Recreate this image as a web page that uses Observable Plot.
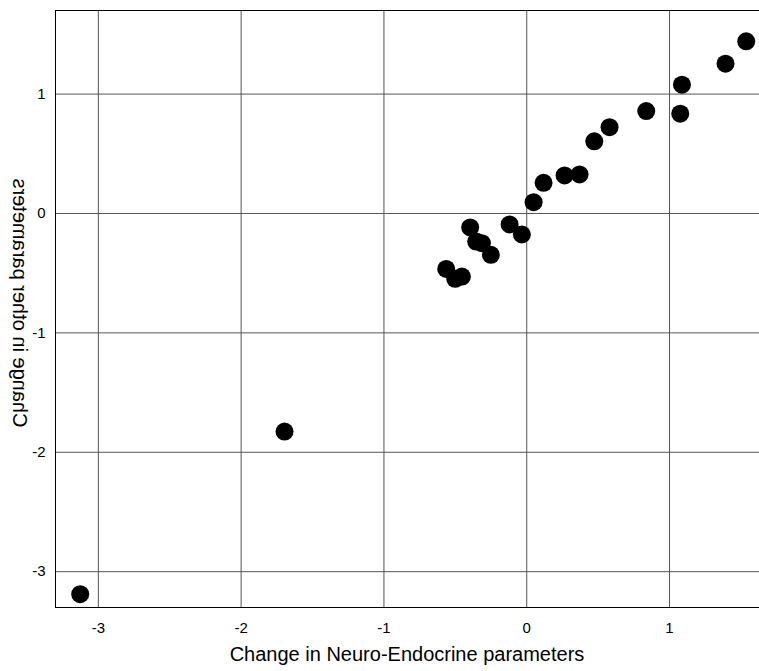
<!DOCTYPE html>
<html>
<head>
<meta charset="utf-8">
<script src="https://cdn.jsdelivr.net/npm/d3@7"></script>
<script src="https://cdn.jsdelivr.net/npm/@observablehq/plot@0.6"></script>
<style>
  body { margin: 0; background: #fff; }
  svg text.ticklab { font-size: 15px !important; }
</style>
</head>
<body>
<div id="chart"></div>
<script>
const xValues = [-3.127, -1.696, -0.564, -0.501, -0.454, -0.396, -0.354, -0.314, -0.251, -0.120, -0.034, 0.048, 0.118, 0.265, 0.370, 0.473, 0.580, 0.837, 1.075, 1.087, 1.392, 1.537];
const yValues = [-3.188, -1.827, -0.464, -0.547, -0.528, -0.117, -0.235, -0.249, -0.346, -0.092, -0.176, 0.095, 0.257, 0.319, 0.327, 0.604, 0.723, 0.858, 0.836, 1.079, 1.255, 1.442];
const xTicks = [-3, -2, -1, 0, 1];
const yTicks = [-3, -2, -1, 0, 1];
const xLabel = "Change in Neuro-Endocrine parameters";
const yLabel = "Change in other parameters";

const data = xValues.map((x, i) => ({x, y: yValues[i]}));
const fmt = d => String(d);
const W = 759, H = 671, mL = 55, mR = 0, mT = 10, mB = 64;

const chart = Plot.plot({
  width: W,
  height: H,
  marginLeft: mL,
  marginRight: mR,
  marginTop: mT,
  marginBottom: mB,
  style: {fontFamily: "'Liberation Sans', Arial, sans-serif", fontSize: "15px", color: "#000", background: "#fff", overflow: "visible"},
  x: {domain: [-3.3, 1.63]},
  y: {domain: [-3.3, 1.7]},
  marks: [
    Plot.gridX(xTicks, {stroke: "#555", strokeOpacity: 1}),
    Plot.gridY(yTicks, {stroke: "#555", strokeOpacity: 1}),
    Plot.frame({stroke: "#000"}),
    Plot.axisX(xTicks, {tickSize: 0, tickPadding: 15, tickFormat: fmt, label: null, fill: "#000", fontSize: 15}),
    Plot.axisY(yTicks, {tickSize: 0, tickPadding: 10, tickFormat: fmt, label: null, fill: "#000", fontSize: 15}),
    Plot.dot(data, {x: "x", y: "y", r: 9, fill: "#000", stroke: "none"})
  ]
});

const svg = d3.select(chart);
svg.selectAll("text").classed("ticklab", true).attr("font-size", 15);
svg.append("text")
  .attr("x", (mL + W - mR) / 2)
  .attr("y", 661)
  .attr("text-anchor", "middle")
  .style("font-size", "20px")
  .style("font-family", "'Liberation Sans', Arial, sans-serif")
  .attr("fill", "#000")
  .text(xLabel);
svg.append("text")
  .attr("transform", "translate(12.7,303) rotate(-90) scale(1,-1)")
  .attr("text-anchor", "middle")
  .style("font-size", "20px")
  .style("font-family", "'Liberation Sans', Arial, sans-serif")
  .attr("fill", "#000")
  .text(yLabel);

document.getElementById("chart").appendChild(chart);
</script>
</body>
</html>
